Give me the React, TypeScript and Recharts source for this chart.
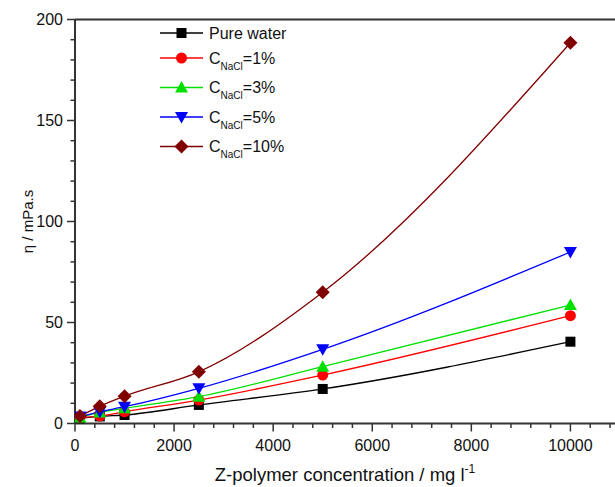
/**
 * Viscosity vs Z-polymer concentration for several NaCl concentrations.
 */

import React from "react";
import {
  LineChart,
  Line,
  XAxis,
  YAxis,
  ReferenceLine,
} from "recharts";

const CONCENTRATIONS = [100, 500, 1000, 2500, 5000, 10000];

const PURE_WATER = [2.5, 3.5, 4.2, 9.2, 17.1, 40.5];
const NACL_1 = [3.0, 3.7, 5.8, 11.6, 24.0, 53.4];
const NACL_3 = [3.0, 5.5, 7.5, 13.3, 28.1, 58.7];
const NACL_5 = [3.5, 5.8, 8.3, 17.4, 36.7, 84.9];
const NACL_10 = [3.7, 8.5, 13.5, 25.6, 65.0, 188.5];

const X_LABELED = [0, 2000, 4000, 6000, 8000, 10000];
const X_TICKS = [
  0, 400, 800, 1200, 1600, 2000, 2400, 2800, 3200, 3600, 4000, 4400, 4800,
  5200, 5600, 6000, 6400, 6800, 7200, 7600, 8000, 8400, 8800, 9200, 9600,
  10000, 10400, 10800,
];
const Y_LABELED = [0, 50, 100, 150, 200];
const Y_TICKS = [
  0, 10, 20, 30, 40, 50, 60, 70, 80, 90, 100, 110, 120, 130, 140, 150, 160,
  170, 180, 190, 200,
];

type Shape = "square" | "circle" | "triangle" | "triangleDown" | "diamond";

const SERIES: { key: string; name: string; sub?: string; suffix?: string; color: string; shape: Shape; values: number[] }[] = [
  { key: "pure", name: "Pure water", color: "#000000", shape: "square", values: PURE_WATER },
  { key: "n1", name: "C", sub: "NaCl", suffix: "=1%", color: "#ff0000", shape: "circle", values: NACL_1 },
  { key: "n3", name: "C", sub: "NaCl", suffix: "=3%", color: "#00e000", shape: "triangle", values: NACL_3 },
  { key: "n5", name: "C", sub: "NaCl", suffix: "=5%", color: "#0000ff", shape: "triangleDown", values: NACL_5 },
  { key: "n10", name: "C", sub: "NaCl", suffix: "=10%", color: "#800000", shape: "diamond", values: NACL_10 },
];

const data = CONCENTRATIONS.map((c, i) => {
  const row: Record<string, number> = { c };
  SERIES.forEach((s) => (row[s.key] = s.values[i]));
  return row;
});

const FONT = "'Liberation Sans', Arial, Helvetica, sans-serif";
const AXIS_COLOR = "#333";
const TEXT_COLOR = "#111";

function Marker({ shape, cx, cy, color }: { shape: Shape; cx: number; cy: number; color: string }) {
  switch (shape) {
    case "square":
      return <rect x={cx - 5} y={cy - 5} width={10} height={10} fill={color} />;
    case "circle":
      return <circle cx={cx} cy={cy} r={5.5} fill={color} />;
    case "triangle":
      return <polygon points={`${cx},${cy - 6.5} ${cx + 6.5},${cy + 5} ${cx - 6.5},${cy + 5}`} fill={color} />;
    case "triangleDown":
      return <polygon points={`${cx},${cy + 6.5} ${cx + 6.5},${cy - 5} ${cx - 6.5},${cy - 5}`} fill={color} />;
    default:
      return <polygon points={`${cx},${cy - 7} ${cx + 7},${cy} ${cx},${cy + 7} ${cx - 7},${cy}`} fill={color} />;
  }
}

// tick mark + label; minor ticks get a short mark and no label
function XTick({ x, y, payload }: any) {
  const major = X_LABELED.includes(payload.value);
  return (
    <g>
      <line x1={x} x2={x} y1={y} y2={y + (major ? 8 : 4.5)} stroke={AXIS_COLOR} strokeWidth={1.5} />
      {major && (
        <text x={x} y={y + 16} dy="0.71em" textAnchor="middle" fontSize={16} fill={TEXT_COLOR} fontFamily={FONT}>
          {payload.value}
        </text>
      )}
    </g>
  );
}

function YTick({ x, y, payload }: any) {
  const major = Y_LABELED.includes(payload.value);
  return (
    <g>
      <line x1={x - (major ? 8 : 4.5)} x2={x} y1={y} y2={y} stroke={AXIS_COLOR} strokeWidth={1.5} />
      {major && (
        <text x={x - 12} y={y} dy="0.355em" textAnchor="end" fontSize={16} fill={TEXT_COLOR} fontFamily={FONT}>
          {payload.value}
        </text>
      )}
    </g>
  );
}

function XTitle({ viewBox }: any) {
  const cx = viewBox.x + viewBox.width / 2;
  return (
    <text x={cx} y={481} textAnchor="middle" fontSize={18.5} fill={TEXT_COLOR} fontFamily={FONT}>
      Z-polymer concentration / mg l
      <tspan fontSize={12} dy={-8}>-1</tspan>
    </text>
  );
}

function YTitle({ viewBox }: any) {
  const cy = viewBox.y + viewBox.height / 2;
  const x = 27;
  return (
    <text
      x={x}
      y={cy}
      transform={`rotate(-90, ${x}, ${cy})`}
      textAnchor="middle"
      dominantBaseline="central"
      fontSize={15}
      fill={TEXT_COLOR}
      fontFamily={FONT}
    >
      η / mPa.s
    </text>
  );
}

function LegendOverlay() {
  return (
    <svg width={615} height={487} style={{ position: "absolute", left: 0, top: 0, pointerEvents: "none" }}>
      {SERIES.map((s, i) => {
        const cy = i === 0 ? 33 : 58 + (i - 1) * 29.5;
        return (
          <g key={s.key}>
            <line x1={160} x2={203} y1={cy} y2={cy} stroke={s.color} strokeWidth={1.3} />
            <Marker shape={s.shape} cx={181.5} cy={cy} color={s.color} />
            <text x={209} y={cy + 5.7} fontSize={16} fill={TEXT_COLOR} fontFamily={FONT}>
              {s.name}
              {s.sub && (
                <>
                  <tspan fontSize={10} dy={6}>{s.sub}</tspan>
                  <tspan dy={-6}>{s.suffix}</tspan>
                </>
              )}
            </text>
          </g>
        );
      })}
    </svg>
  );
}

export default function App() {
  return (
    <div
      style={{
        position: "absolute",
        left: 0,
        top: 0,
        width: 615,
        height: 487,
        background: "#fff",
        overflow: "hidden",
        fontFamily: FONT,
      }}
    >
      <LineChart width={615} height={487} data={data} margin={{ top: 19.5, right: 0, left: 0, bottom: 0 }}>
        <XAxis
          dataKey="c"
          type="number"
          domain={[0, 10900]}
          ticks={X_TICKS}
          interval={0}
          allowDataOverflow
          height={63.5}
          tickSize={0}
          tickMargin={0}
          tickLine={false}
          axisLine={{ stroke: AXIS_COLOR, strokeWidth: 2 }}
          tick={<XTick />}
          label={<XTitle />}
        />
        <YAxis
          type="number"
          domain={[0, 200]}
          ticks={Y_TICKS}
          interval={0}
          allowDataOverflow
          width={75}
          tickSize={0}
          tickMargin={0}
          tickLine={false}
          axisLine={{ stroke: AXIS_COLOR, strokeWidth: 2 }}
          tick={<YTick />}
          label={<YTitle />}
        />
        <ReferenceLine y={200} stroke={AXIS_COLOR} strokeWidth={2} />
        {SERIES.map((s) => (
          <Line
            key={s.key}
            dataKey={s.key}
            type="monotone"
            stroke={s.color}
            strokeWidth={1.3}
            isAnimationActive={false}
            activeDot={false}
            dot={(p: any) => (
              <Marker key={`${s.key}-${p.index}`} shape={s.shape} cx={p.cx} cy={p.cy} color={s.color} />
            )}
          />
        ))}
      </LineChart>
      <LegendOverlay />
    </div>
  );
}
